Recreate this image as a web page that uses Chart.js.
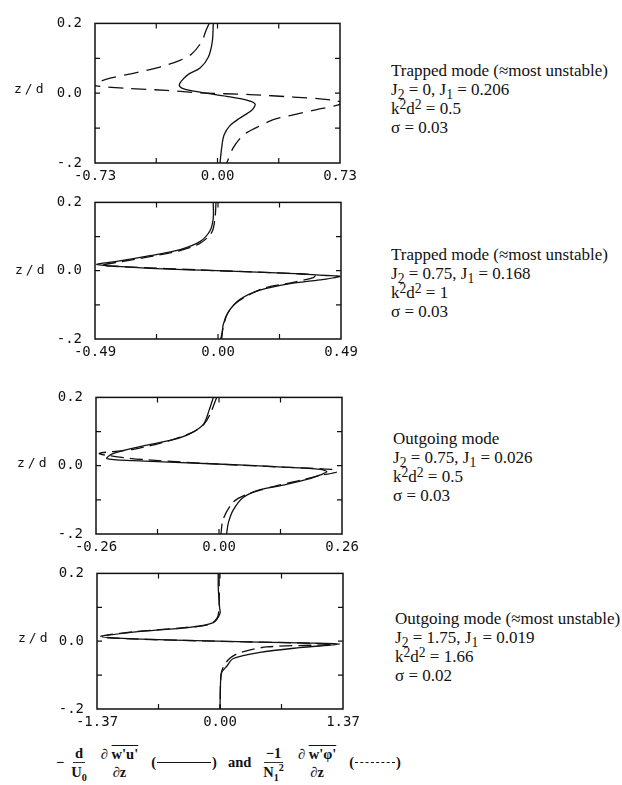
<!DOCTYPE html>
<html>
<head>
<meta charset="utf-8">
<script src="https://cdn.jsdelivr.net/npm/chart.js@4/dist/chart.umd.min.js"></script>
<style>
  html, body { margin: 0; padding: 0; background: #fff; }
  body { width: 622px; height: 785px; position: relative; overflow: hidden; }
  canvas { position: absolute; }
  .zd { position: absolute; font-family: "DejaVu Sans Mono", monospace; font-size: 13px; letter-spacing: 3px; color: #111; line-height: 14px; }
  .info { position: absolute; font-family: "Liberation Serif", "Times New Roman", serif; font-size: 17px; line-height: 19px; color: #111; white-space: nowrap; }
  .info sub, .info sup { font-size: 80%; line-height: 0; position: relative; vertical-align: baseline; }
  .info sub { top: 0.3em; }
  .info sup { top: -0.4em; }
  #formula { position: absolute; left: 56px; top: 744px; font-family: "Liberation Serif", "Times New Roman", serif; font-weight: bold; font-size: 14.5px; color: #111; white-space: nowrap; display: flex; align-items: center; }
  .frac { display: inline-flex; flex-direction: column; align-items: center; margin: 0 5px; line-height: 18px; }
  .frac .num { padding: 0 2px; }
  .frac .den { padding: 0 2px; }
  .frac .bar { border-bottom: 1px solid #333; }
  .ov { text-decoration: overline; }
  .frac sub, .frac sup { font-size: 70%; line-height: 0; }
  .key { display: inline-flex; align-items: center; margin: 0 6px; }
  .key .ln { display: inline-block; width: 54px; height: 0; border-top: 1.3px solid #111; margin: 0 1px; }
  .key .dl { display: inline-block; width: 40px; height: 0; border-top: 1.3px dashed #111; margin: 0 1px; }
</style>
</head>
<body>

<canvas id="c1"></canvas>
<canvas id="c2"></canvas>
<canvas id="c3"></canvas>
<canvas id="c4"></canvas>

<div class="zd" style="left:14px; top:82px;">z/d</div>
<div class="zd" style="left:15px; top:263px;">z/d</div>
<div class="zd" style="left:17px; top:456px;">z/d</div>
<div class="zd" style="left:18px; top:631px;">z/d</div>

<div class="info" style="left:391px; top:61px;">Trapped mode (≈most unstable)<br>J<sub>2</sub> = 0, J<sub>1</sub> = 0.206<br>k<sup>2</sup>d<sup>2</sup> = 0.5<br>σ = 0.03</div>
<div class="info" style="left:391px; top:245px;">Trapped mode (≈most unstable)<br>J<sub>2</sub> = 0.75, J<sub>1</sub> = 0.168<br>k<sup>2</sup>d<sup>2</sup> = 1<br>σ = 0.03</div>
<div class="info" style="left:393px; top:429px;">Outgoing mode<br>J<sub>2</sub> = 0.75, J<sub>1</sub> = 0.026<br>k<sup>2</sup>d<sup>2</sup> = 0.5<br>σ = 0.03</div>
<div class="info" style="left:395px; top:609px;">Outgoing mode (≈most unstable)<br>J<sub>2</sub> = 1.75, J<sub>1</sub> = 0.019<br>k<sup>2</sup>d<sup>2</sup> = 1.66<br>σ = 0.02</div>

<div id="formula">
  <span>−</span>
  <span class="frac"><span class="num bar">d</span><span class="den">U<sub>0</sub></span></span>
  <span class="frac"><span class="num">∂ <span class="ov">w'u'</span></span><span class="den">∂z</span></span>
  <span class="key">(<span class="ln"></span>)</span>
  <span style="margin:0 5px">and</span>
  <span class="frac"><span class="num bar">−1</span><span class="den">N<sub>1</sub><sup>2</sup></span></span>
  <span class="frac"><span class="num">∂ <span class="ov">w'φ'</span></span><span class="den">∂z</span></span>
  <span class="key">(<span class="dl"></span>)</span>
</div>

<script>
// ---------------- DATA ----------------
// x-axis half ranges and tick labels per panel
const xLimits = [0.73, 0.49, 0.26, 1.37];
const xTickLabels1 = ['-0.73', '0.00', '0.73'];
const xTickLabels2 = ['-0.49', '0.00', '0.49'];
const xTickLabels3 = ['-0.26', '0.00', '0.26'];
const xTickLabels4 = ['-1.37', '0.00', '1.37'];
const yTickValues = [0.2, 0.0, -0.2];
const yTickLabels = ['0.2', '0.0', '-.2'];

// Panel 1 (solid: momentum flux divergence, dashed: heat flux divergence)
const solid1Z  = [0.200, 0.148, 0.103, 0.072, 0.054, 0.036, 0.023, 0.013, 0.003, -0.009, -0.020, -0.031, -0.049, -0.071, -0.093, -0.120, -0.156, -0.200];
const solid1X  = [-0.025, -0.031, -0.055, -0.104, -0.174, -0.213, -0.228, -0.205, -0.104, 0.055, 0.174, 0.224, 0.204, 0.134, 0.074, 0.039, 0.025, 0.015];
const dashed1Z = [0.200, 0.179, 0.148, 0.112, 0.094, 0.075, 0.057, 0.043, 0.030, 0.026, 0.021, 0.014, 0.008, 0.001, -0.004, -0.011, -0.016, -0.021, -0.027, -0.034, -0.047, -0.062, -0.076, -0.098, -0.120, -0.156, -0.200];
const dashed1X = [-0.050, -0.069, -0.094, -0.154, -0.224, -0.343, -0.502, -0.641, -0.725, -0.760, -0.725, -0.547, -0.303, -0.104, 0.194, 0.452, 0.611, 0.700, 0.745, 0.715, 0.591, 0.452, 0.333, 0.234, 0.154, 0.094, 0.055];

// Panel 2
const solid2Z  = [0.200, 0.153, 0.117, 0.085, 0.062, 0.044, 0.027, 0.019, 0.014, 0.007, 0.000, -0.007, -0.014, -0.017, -0.027, -0.038, -0.057, -0.084, -0.121, -0.157, -0.200];
const solid2X  = [-0.019, -0.019, -0.032, -0.072, -0.151, -0.271, -0.404, -0.483, -0.430, -0.271, -0.005, 0.260, 0.433, 0.486, 0.406, 0.287, 0.167, 0.088, 0.041, 0.021, 0.015];
const dashed2Z = [0.200, 0.153, 0.112, 0.080, 0.059, 0.041, 0.026, 0.016, 0.013, 0.000, -0.009, -0.014, -0.020, -0.034, -0.052, -0.093, -0.130, -0.200];
const dashed2X = [-0.008, -0.012, -0.025, -0.072, -0.151, -0.271, -0.390, -0.463, -0.417, 0.000, 0.327, 0.386, 0.380, 0.300, 0.180, 0.074, 0.035, 0.011];

// Panel 3
const solid3Z  = [0.200, 0.162, 0.121, 0.094, 0.076, 0.058, 0.036, 0.021, 0.015, 0.005, -0.004, -0.011, -0.018, -0.027, -0.038, -0.057, -0.070, -0.093, -0.130, -0.166, -0.200];
const solid3X  = [-0.012, -0.021, -0.033, -0.061, -0.097, -0.160, -0.223, -0.237, -0.181, -0.005, 0.136, 0.214, 0.228, 0.214, 0.192, 0.136, 0.087, 0.051, 0.030, 0.020, 0.016];
const dashed3Z = [0.200, 0.150, 0.121, 0.099, 0.071, 0.048, 0.036, 0.026, 0.017, 0.004, -0.005, -0.011, -0.018, -0.028, -0.043, -0.061, -0.084, -0.107, -0.156, -0.200];
const dashed3X = [-0.005, -0.019, -0.032, -0.054, -0.111, -0.181, -0.253, -0.215, -0.150, 0.008, 0.150, 0.238, 0.250, 0.215, 0.171, 0.115, 0.059, 0.030, 0.009, 0.004];

// Panel 4
const solid4Z  = [0.200, 0.156, 0.100, 0.082, 0.055, 0.041, 0.027, 0.013, 0.007, 0.000, -0.005, -0.008, -0.019, -0.033, -0.051, -0.074, -0.092, -0.130, -0.200];
const solid4X  = [-0.020, -0.019, -0.005, 0.000, -0.075, -0.334, -0.965, -1.320, -0.965, -0.037, 0.890, 1.336, 0.890, 0.445, 0.148, 0.075, 0.019, 0.005, 0.000];
const dashed4Z = [0.200, 0.100, 0.070, 0.050, 0.040, 0.028, 0.014, 0.007, 0.000, -0.006, -0.010, -0.017, -0.034, -0.050, -0.075, -0.100, -0.200];
const dashed4X = [-0.010, -0.010, -0.030, -0.110, -0.400, -0.950, -1.330, -1.000, -0.050, 1.000, 1.250, 0.520, 0.220, 0.110, 0.040, 0.010, 0.003];

// ---------------- LAYOUT ----------------
const panels = [
  { id: 'c1', rect: [95, 14, 340, 163], lim: xLimits[0], labels: xTickLabels1, s: [solid1X, solid1Z], d: [dashed1X, dashed1Z], dash: [15, 8] },
  { id: 'c2', rect: [95, 193, 341, 339], lim: xLimits[1], labels: xTickLabels2, s: [solid2X, solid2Z], d: [dashed2X, dashed2Z], dash: [13, 6] },
  { id: 'c3', rect: [96, 388, 342, 534], lim: xLimits[2], labels: xTickLabels3, s: [solid3X, solid3Z], d: [dashed3X, dashed3Z], dash: [13, 6] },
  { id: 'c4', rect: [97, 564, 343, 709], lim: xLimits[3], labels: xTickLabels4, s: [solid4X, solid4Z], d: [dashed4X, dashed4Z], dash: [13, 6] }
];
const Y_W = 70, PAD_R = 30, PAD_T = 12, X_H = 24;
const INK = '#111';

const frameTicks = {
  id: 'frameTicks',
  afterDraw(chart) {
    const { ctx, chartArea: a, scales } = chart;
    const xs = scales.x, ys = scales.y;
    ctx.save();
    ctx.strokeStyle = INK;
    ctx.lineWidth = 1.5;
    ctx.strokeRect(a.left, a.top, a.right - a.left, a.bottom - a.top);
    ctx.lineWidth = 1.2;
    const len = 5;
    ctx.beginPath();
    xs.ticks.forEach(t => {
      const px = xs.getPixelForValue(t.value);
      if (px <= a.left + 1 || px >= a.right - 1) return;
      ctx.moveTo(px, a.top); ctx.lineTo(px, a.top + len);
      ctx.moveTo(px, a.bottom); ctx.lineTo(px, a.bottom - len);
    });
    ys.ticks.forEach(t => {
      const py = ys.getPixelForValue(t.value);
      if (py <= a.top + 1 || py >= a.bottom - 1) return;
      ctx.moveTo(a.left, py); ctx.lineTo(a.left + len, py);
      ctx.moveTo(a.right, py); ctx.lineTo(a.right - len, py);
    });
    ctx.stroke();
    ctx.restore();
  }
};

function toPoints(xsArr, zsArr) {
  return xsArr.map((v, i) => ({ x: v, y: zsArr[i] }));
}

panels.forEach(p => {
  const [L, T, R, B] = p.rect;
  const cv = document.getElementById(p.id);
  const w = R - L + Y_W + PAD_R;
  const h = B - T + PAD_T + X_H;
  cv.style.left = (L - Y_W) + 'px';
  cv.style.top = (T - PAD_T) + 'px';
  cv.style.width = w + 'px';
  cv.style.height = h + 'px';
  cv.width = w; cv.height = h;

  const xTickVals = [-p.lim, -p.lim / 2, 0, p.lim / 2, p.lim];
  const xLabelVals = [-p.lim, 0, p.lim];

  new Chart(cv, {
    type: 'scatter',
    data: {
      datasets: [
        { data: toPoints(p.s[0], p.s[1]), showLine: true, borderColor: INK, borderWidth: 1.3, pointRadius: 0, tension: 0.3, fill: false },
        { data: toPoints(p.d[0], p.d[1]), showLine: true, borderColor: INK, borderWidth: 1.3, borderDash: p.dash, pointRadius: 0, tension: 0.3, fill: false }
      ]
    },
    options: {
      responsive: false,
      animation: false,
      devicePixelRatio: 1,
      layout: { padding: { top: PAD_T, right: PAD_R, left: 0, bottom: 0 } },
      plugins: { legend: { display: false }, tooltip: { enabled: false } },
      elements: { line: { capBezierPoints: false } },
      scales: {
        x: {
          type: 'linear', min: -p.lim, max: p.lim,
          grid: { display: false, drawTicks: false },
          border: { display: false },
          afterBuildTicks: s => { s.ticks = xTickVals.map(v => ({ value: v })); },
          afterFit: s => { s.height = X_H; },
          ticks: {
            autoSkip: false, maxRotation: 0, minRotation: 0, padding: 5, color: INK,
            font: { family: 'DejaVu Sans Mono', size: 14 },
            callback: v => {
              const i = xLabelVals.findIndex(q => Math.abs(q - v) < 1e-9);
              return i >= 0 ? p.labels[i] : '';
            }
          }
        },
        y: {
          type: 'linear', min: -0.2, max: 0.2,
          grid: { display: false, drawTicks: false },
          border: { display: false },
          afterBuildTicks: s => { s.ticks = [-0.2, -0.1, 0, 0.1, 0.2].map(v => ({ value: v })); },
          afterFit: s => { s.width = Y_W; },
          ticks: {
            autoSkip: false, padding: 13, color: INK,
            font: { family: 'DejaVu Sans Mono', size: 14 },
            callback: v => {
              const i = yTickValues.findIndex(q => Math.abs(q - v) < 1e-9);
              return i >= 0 ? yTickLabels[i] : '';
            }
          }
        }
      }
    },
    plugins: [frameTicks]
  });
});
</script>
</body>
</html>
